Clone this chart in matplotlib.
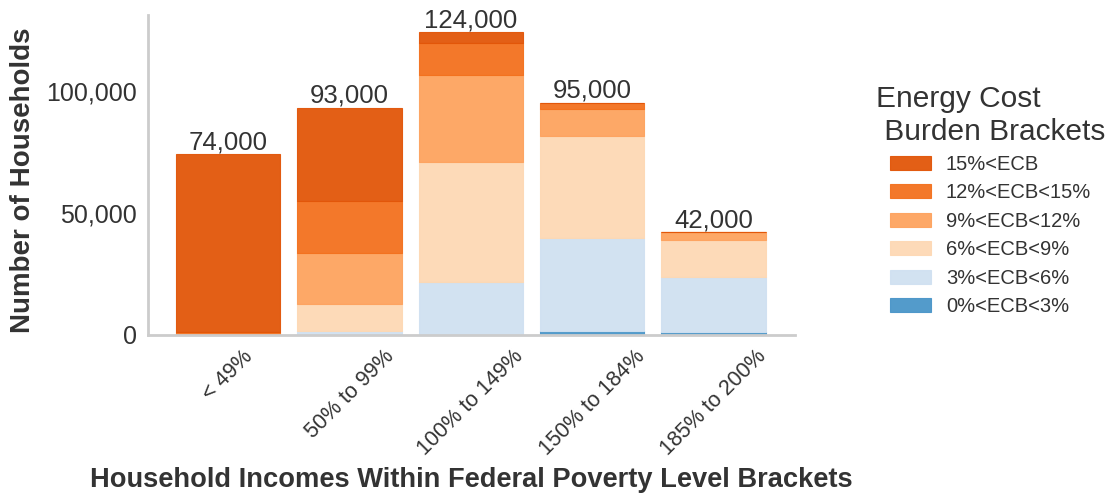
import matplotlib
matplotlib.use('Agg')
import matplotlib.pyplot as plt
import numpy as np

plt.rcParams['font.family'] = ['Liberation Sans', 'DejaVu Sans']
plt.rcParams['text.color'] = '#333333'
plt.rcParams['axes.labelcolor'] = '#333333'
plt.rcParams['xtick.color'] = '#333333'
plt.rcParams['ytick.color'] = '#333333'

# income brackets (share of federal poverty level)
fpl_brackets = ['< 49%', '50% to 99%', '100% to 149%', '150% to 184%', '185% to 200%']

# households per energy cost burden bracket, bottom layer first
ecb_labels = ['0%<ECB<3%', '3%<ECB<6%', '6%<ECB<9%', '9%<ECB<12%', '12%<ECB<15%', '15%<ECB']
ecb_0_3 = [0, 0, 0, 1800, 1200]
ecb_3_6 = [0, 1500, 21800, 38100, 22600]
ecb_6_9 = [0, 11200, 49000, 41400, 15000]
ecb_9_12 = [0, 20900, 35800, 11400, 3200]
ecb_12_15 = [1200, 21300, 13100, 2300, 0]
ecb_15_up = [72800, 38100, 4300, 0, 0]

ecb_colors = ['#4a96c9', '#d0e1f1', '#fdd8b4', '#fda35f', '#f3711e', '#e25609']

layers = [ecb_0_3, ecb_3_6, ecb_6_9, ecb_9_12, ecb_12_15, ecb_15_up]

fig = plt.figure(figsize=(11.05, 4.95), dpi=100)
ax = fig.add_axes([148/1105, 1-335/495, (795-148)/1105, (335-15)/495])

x = np.arange(len(fpl_brackets))
bottom = np.zeros(len(fpl_brackets))
handles = []
for vals, lab, col in zip(layers, ecb_labels, ecb_colors):
    h = ax.bar(x, vals, width=0.86, bottom=bottom, color=col, edgecolor=col,
               linewidth=0.8, alpha=0.95, label=lab)
    handles.append(h)
    bottom += np.array(vals)

totals = bottom
for xi, t in zip(x, totals):
    ax.text(xi, t, f'{int(round(t, -3)):,}', ha='center', va='bottom', fontsize=18.5)

ax.set_xlim(-0.66, 4.67)
ax.set_ylim(0, 131000)
ax.set_yticks([0, 50000, 100000])
ax.set_yticklabels(['0', '50,000', '100,000'], fontsize=18)
ax.set_xticks(x)
ax.set_xticklabels(fpl_brackets, rotation=45, fontsize=15.5)
ax.tick_params(length=0, pad=8)

for side in ['top', 'right']:
    ax.spines[side].set_visible(False)
for side in ['left', 'bottom']:
    ax.spines[side].set_color('#cccccc')
    ax.spines[side].set_linewidth(2)

# axis titles placed in figure pixels
fig.text(23/1105, 1-180/495, 'Number of Households', rotation=90,
         ha='center', va='center', fontsize=20, fontweight='bold', color='#333333')
fig.text(471/1105, 1-480/495, 'Household Incomes Within Federal Poverty Level Brackets',
         ha='center', va='center', fontsize=19.6, fontweight='bold', color='#333333')

leg = fig.legend(handles[::-1], ecb_labels[::-1], loc='upper left',
                 bbox_to_anchor=(858/1105, 1-67/495), frameon=False,
                 title='Energy Cost\n Burden Brackets', title_fontsize=21.5,
                 fontsize=14.5, handlelength=2.0, handleheight=0.7,
                 handletextpad=0.75, labelspacing=0.47)

fig.savefig('out.png', dpi=100)
